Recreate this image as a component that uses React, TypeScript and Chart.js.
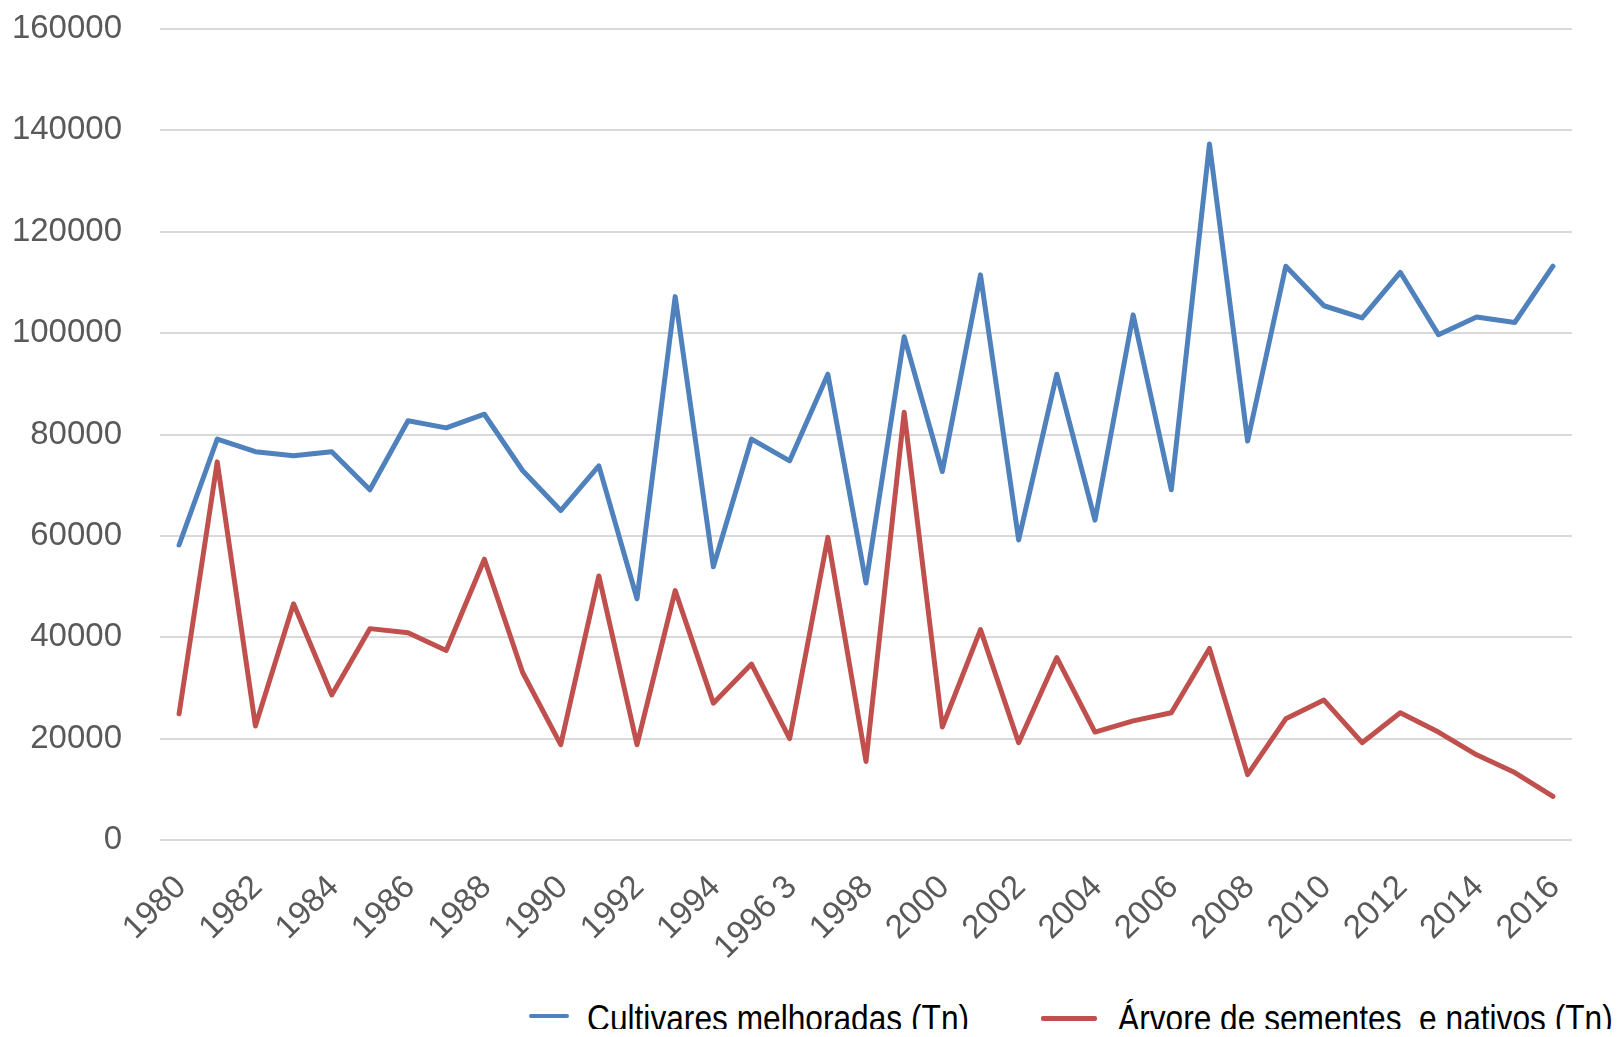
import React, { useEffect, useRef } from "react";
import { Chart, registerables } from "chart.js";

Chart.register(...registerables);

const years: string[] = [
  "1980", "1981", "1982", "1983", "1984", "1985", "1986", "1987", "1988", "1989",
  "1990", "1991", "1992", "1993", "1994", "1995", "1996 3", "1997", "1998", "1999",
  "2000", "2001", "2002", "2003", "2004", "2005", "2006", "2007", "2008", "2009",
  "2010", "2011", "2012", "2013", "2014", "2015", "2016",
];

const cultivares: number[] = [
  58200, 79100, 76600, 75800, 76600, 69100, 82700, 81300, 84000, 72900,
  65000, 73800, 47600, 107200, 53900, 79100, 74800, 91900, 50700, 99300,
  72700, 111500, 59200, 91900, 63100, 103600, 69100, 137300, 78700, 113200,
  105400, 103000, 112000, 99700, 103200, 102100, 113200,
];

const arvores: number[] = [
  24900, 74600, 22500, 46600, 28600, 41700, 40900, 37400, 55400, 33100,
  18800, 52100, 18800, 49200, 27000, 34700, 20000, 59700, 15500, 84400,
  22300, 41500, 19200, 36000, 21300, 23500, 25100, 37800, 12900, 23900,
  27600, 19200, 25100, 21300, 16800, 13300, 8600,
];

const seriesNames: string[] = ["Cultivares melhoradas (Tn)", "Árvore de sementes  e nativos (Tn)"];
const seriesColors: string[] = ["#4F81BD", "#C0504D"];

const yMin = 0;
const yMax = 160000;
const yStep = 20000;

export default function App() {
  const canvasRef = useRef<HTMLCanvasElement | null>(null);

  useEffect(() => {
    if (!canvasRef.current) return;
    const chart = new Chart(canvasRef.current, {
      type: "line",
      data: {
        labels: years,
        datasets: [
          {
            label: seriesNames[0],
            data: cultivares,
            borderColor: seriesColors[0],
            backgroundColor: seriesColors[0],
            borderWidth: 5,
            pointRadius: 0,
            tension: 0,
            borderJoinStyle: "round",
            borderCapStyle: "round",
          },
          {
            label: seriesNames[1],
            data: arvores,
            borderColor: seriesColors[1],
            backgroundColor: seriesColors[1],
            borderWidth: 5,
            pointRadius: 0,
            tension: 0,
            borderJoinStyle: "round",
            borderCapStyle: "round",
          },
        ],
      },
      options: {
        animation: false,
        responsive: true,
        maintainAspectRatio: false,
        layout: { padding: { top: 21, right: 41, left: 0, bottom: 0 } },
        plugins: {
          legend: { display: false },
          tooltip: { enabled: false },
        },
        scales: {
          x: {
            offset: true,
            grid: { display: false, drawTicks: false },
            border: { display: false },
            ticks: {
              autoSkip: false,
              minRotation: 45,
              maxRotation: 45,
              padding: 28,
              labelOffset: 2,
              color: "#595959",
              font: { family: "Liberation Sans", size: 33 },
              callback: function (this: any, _v: any, i: number) {
                return i % 2 === 0 ? years[i] : "";
              },
            },
            afterFit: (scale: any) => {
              scale.height = 128;
            },
          },
          y: {
            min: yMin,
            max: yMax,
            grid: { color: "#d9d9d9", lineWidth: 2, drawTicks: false },
            border: { display: false },
            ticks: {
              stepSize: yStep,
              padding: 38,
              color: "#595959",
              font: { family: "Liberation Sans", size: 33 },
              callback: (v: any) => String(v),
            },
            afterFit: (scale: any) => {
              scale.width = 152;
              scale.paddingTop = 0;
              scale.paddingBottom = 0;
            },
          },
        },
      },
    });
    return () => chart.destroy();
  }, []);

  const textStyle: React.CSSProperties = {
    position: "absolute",
    top: 993,
    fontFamily: "Liberation Sans, Arial, sans-serif",
    fontSize: 36,
    lineHeight: "36px",
    color: "#000",
    whiteSpace: "pre",
    transform: "scaleX(0.88)",
    transformOrigin: "left center",
  };
  const lineStyle = (left: number, top: number, width: number, color: string): React.CSSProperties => ({
    position: "absolute",
    left,
    top,
    width,
    height: 4.5,
    borderRadius: 2,
    background: color,
  });

  return (
    <div style={{ position: "relative", width: 1605, height: 1021 }}>
      <div style={{ position: "absolute", left: 0, top: 0, width: 1605, height: 960 }}>
        <canvas ref={canvasRef} />
      </div>
      <div style={lineStyle(521, 1005.5, 40, seriesColors[0])} />
      <span style={{ ...textStyle, left: 579 }}>{seriesNames[0]}</span>
      <div style={lineStyle(1033, 1008, 56, seriesColors[1])} />
      <span style={{ ...textStyle, left: 1110 }}>{seriesNames[1]}</span>
    </div>
  );
}
